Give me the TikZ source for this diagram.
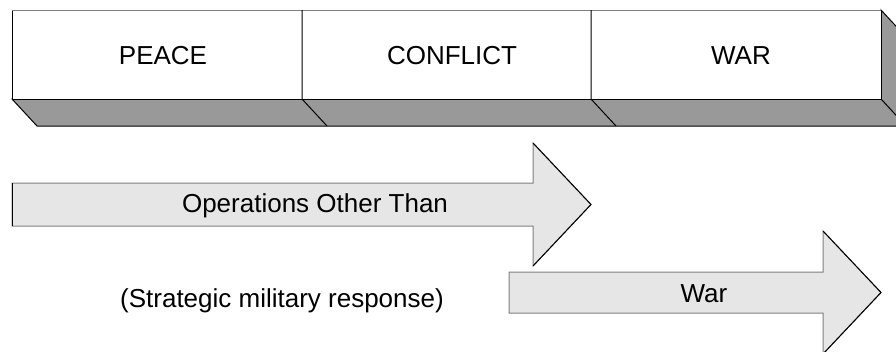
\documentclass[tikz,border=0pt]{standalone}
\usepackage{fontspec}
\setmainfont{Liberation Sans}
\definecolor{shadowgray}{HTML}{999999}
\definecolor{arrowgray}{HTML}{E6E6E6}
\definecolor{edgegray}{HTML}{808080}
\begin{document}
\begin{tikzpicture}[x=1pt, y=-1pt, line width=1pt, line join=miter,
    lbl/.style={font=\fontsize{26}{30}\selectfont, inner sep=0pt}]
\useasboundingbox (0,0) rectangle (896,351);
\clip (0,0) rectangle (896,351);
% the bar and its shadow
\draw[fill=shadowgray] (12,99)--(37,126)--(906,126)--(906,37)--(881,10)--(881,99)--cycle;
\draw (881,99)--(906,126);
\draw[fill=white] (12,10) rectangle (881,99);
\draw[edgegray] (12,10)--(881,10);
\foreach \x in {302,591}
{
    \draw (\x,10)--(\x,99)--(\x+25,126);
}
\node[lbl] (peace) at (163,56) {PEACE};
\node[lbl] (conflict) at (452,56) {CONFLICT};
\node[lbl] (war) at (741,56) {WAR};
% arrows
\draw[edgegray, fill=arrowgray] (12,183)--(533,183)--(533,143)--(591,204.5)--(533,266)--(533,226)--(12,226)--cycle;
\draw (533,143)--(591,204.5)--(533,266);
\draw (12,183)--(12,226);
\draw[edgegray, fill=arrowgray] (509,272)--(823,272)--(823,231)--(881,292.5)--(823,354)--(823,313)--(509,313)--cycle;
\draw (823,231)--(881,292.5)--(823,354);
\node[lbl] (ootw) at (315,206) {Operations Other Than};
\node[lbl] (strat) at (282,301) {(Strategic military response)};
\node[lbl] (wararrow) at (704,294) {War};
\end{tikzpicture}
\end{document}
